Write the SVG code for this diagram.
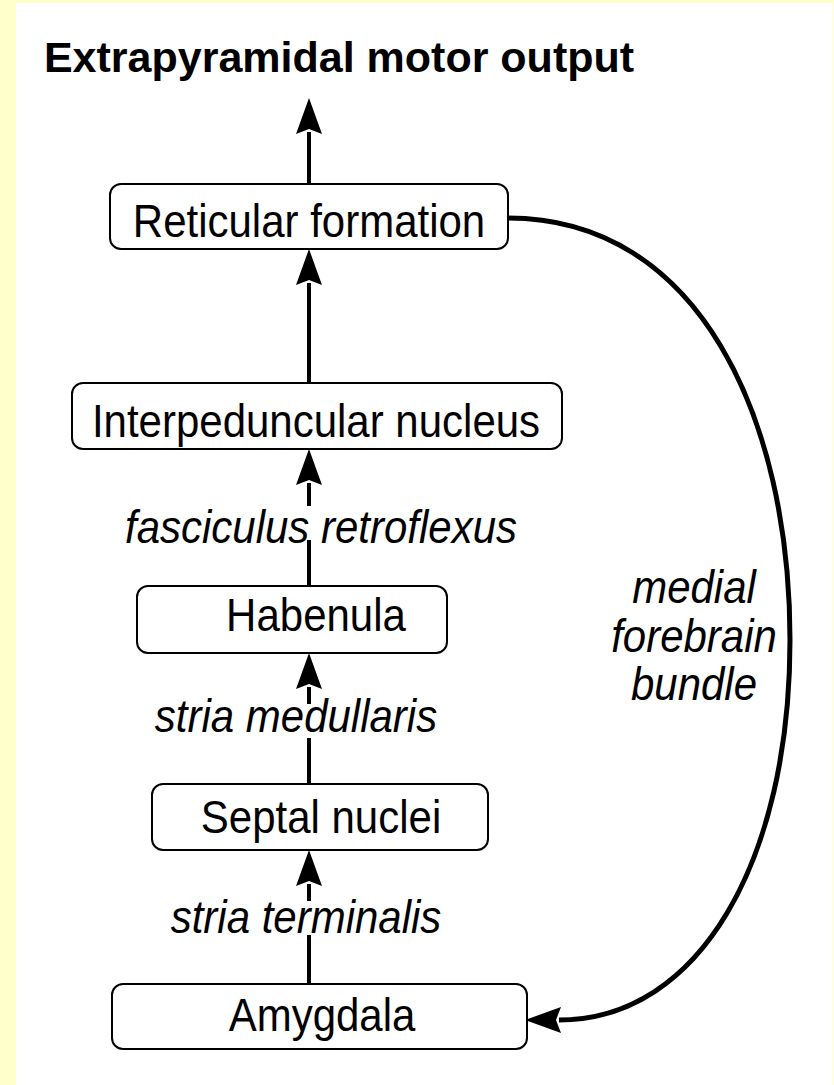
<svg xmlns="http://www.w3.org/2000/svg" width="834" height="1085" viewBox="0 0 834 1085">
  <style>
    .box { fill: #ffffff; stroke: #000000; stroke-width: 2; }
    .lbl { font-family: "Liberation Sans", Arial, sans-serif; font-size: 42px; fill: #000000; text-anchor: middle; }
    .it { font-family: "Liberation Sans", Arial, sans-serif; font-size: 42px; font-style: italic; fill: #000000; text-anchor: middle; }
    .title { font-family: "Liberation Sans", Arial, sans-serif; font-size: 43px; font-weight: bold; fill: #000000; text-anchor: middle; }
    .conn { fill: none; stroke: #000000; stroke-width: 4; }
    .curve { stroke-width: 5; }
    .bg { fill: #ffffff; }
  </style>
  <defs>
    <marker id="arrow" markerUnits="userSpaceOnUse" viewBox="-2 -14 38 28" refX="0" refY="0" markerWidth="38" markerHeight="28" orient="auto" overflow="visible">
      <path d="M34,0 L-2,-13 L3,0 L-2,13 Z" fill="#000000"/>
    </marker>
  </defs>
  <rect x="0" y="0" width="834" height="1085" fill="#ffffcc"/>
  <rect x="16" y="3" width="817" height="1082" fill="#ffffff"/>

  <text class="title" x="339" y="72">Extrapyramidal motor output</text>

  <g id="connectors">
    <path class="conn" d="M309,184 L309,132" marker-end="url(#arrow)"/>
    <path class="conn" d="M309,383 L309,283" marker-end="url(#arrow)"/>
    <path class="conn" d="M309,585 L309,483" marker-end="url(#arrow)"/>
    <path class="conn" d="M309,784 L309,687" marker-end="url(#arrow)"/>
    <path class="conn" d="M309,984 L309,884" marker-end="url(#arrow)"/>
    <path class="conn curve" d="M508,218 C700,218 790,420 790,640 C790,860 700,1020 559,1020" marker-end="url(#arrow)"/>
  </g>

  <g id="edge-labels">
    <rect class="bg" x="300" y="506" width="18" height="34"/>
    <text class="it" transform="translate(321,543) scale(1,1.12)">fasciculus retroflexus</text>
    <rect class="bg" x="300" y="704" width="18" height="34"/>
    <text class="it" transform="translate(296,732) scale(1,1.12)">stria medullaris</text>
    <rect class="bg" x="300" y="901" width="18" height="34"/>
    <text class="it" transform="translate(306,933) scale(1,1.12)">stria terminalis</text>
    <text class="it" transform="translate(694,603) scale(1,1.12)">medial</text>
    <text class="it" transform="translate(694,652) scale(1,1.12)">forebrain</text>
    <text class="it" transform="translate(694,700) scale(1,1.12)">bundle</text>
  </g>

  <g id="reticular">
    <rect class="box" x="110" y="184" width="398" height="65" rx="11"/>
    <text class="lbl" transform="translate(309,237) scale(1,1.12)">Reticular formation</text>
  </g>
  <g id="interpeduncular">
    <rect class="box" x="72" y="383" width="490" height="66" rx="11"/>
    <text class="lbl" transform="translate(316,437) scale(1,1.12)">Interpeduncular nucleus</text>
  </g>
  <g id="habenula">
    <rect class="box" x="137" y="586" width="310" height="67" rx="11"/>
    <text class="lbl" transform="translate(316,631) scale(1,1.12)">Habenula</text>
  </g>
  <g id="septal">
    <rect class="box" x="152" y="784" width="336" height="66" rx="11"/>
    <text class="lbl" transform="translate(321,833) scale(1,1.12)">Septal nuclei</text>
  </g>
  <g id="amygdala">
    <rect class="box" x="112" y="984" width="415" height="65" rx="11"/>
    <text class="lbl" transform="translate(322,1031) scale(1,1.12)">Amygdala</text>
  </g>
</svg>
